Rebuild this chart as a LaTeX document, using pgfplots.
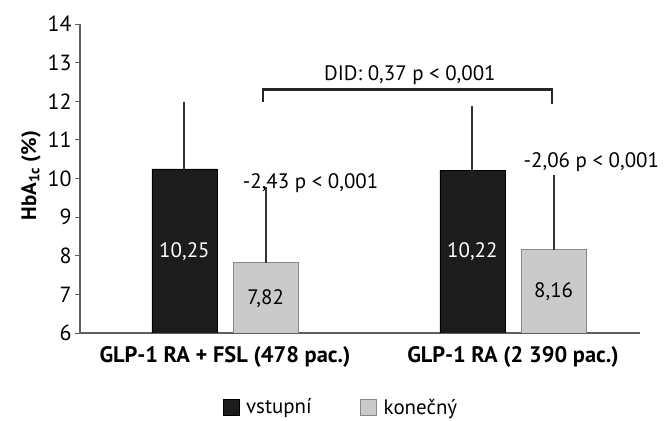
\documentclass[border=0pt]{standalone}
\usepackage{fontspec}
\setmainfont{PT Sans}
\usepackage{pgfplots}
\pgfplotsset{compat=1.18}
\definecolor{barblack}{RGB}{28,28,28}
\definecolor{bargrey}{RGB}{202,202,202}
\definecolor{bargreyedge}{RGB}{135,135,135}
\definecolor{axisgrey}{RGB}{95,95,95}
\newcommand{\fs}{\fontsize{21}{25}\selectfont}
\begin{document}
\begin{tikzpicture}
\useasboundingbox (0,0) rectangle (665bp,421bp);
\begin{axis}[
  at={(80bp,88bp)}, anchor=south west,
  scale only axis, width=560bp, height=309bp,
  xmin=0.4965, xmax=2.441, ymin=6, ymax=14,
  clip mode=individual,
  axis x line*=bottom, axis y line*=left,
  axis line style={draw=axisgrey, line width=1.2bp},
  ytick={6,...,14}, xtick={1,2},
  xticklabels={{GLP-1 RA + FSL (478 pac.)},{GLP-1 RA (2 390 pac.)}},
  x tick label style={font=\fontsize{22.5}{26}\selectfont\bfseries, yshift=-5bp},
  y tick label style={font=\fontsize{22}{26}\selectfont},
  major x tick style={draw=none},
  major y tick style={draw=axisgrey, line width=0.8bp},
  tick align=outside, major tick length=5bp,
  /pgf/number format/assume math mode=true,
  /pgf/number format/use comma,
  ylabel={\textbf{HbA\textsubscript{1c} (\%)}},
  ylabel style={font=\fontsize{21}{25}\selectfont, xshift=3bp},
  legend columns=2,
  legend style={at={(0.466,-0.240)}, anchor=center, draw=none, fill=none,
    inner sep=0pt, outer sep=0pt,
    font=\fs, nodes={inner ysep=0bp},
    /tikz/every even column/.append style={column sep=46bp},
    /tikz/every odd column/.append style={column sep=5bp}},
]
\addplot[ybar, bar width=0.2257, bar shift=0, fill=barblack, draw=black,
  legend image code/.code={\draw[fill=barblack, draw=black] (0bp,-8bp) rectangle (16bp,8bp);},
  error bars/.cd, y dir=plus, y explicit, error mark=none,
  error bar style={line width=1.8bp, black!80}]
  coordinates {(0.859,10.25) +- (0,1.72) (1.859,10.22) +- (0,1.65)};
\addlegendentry{vstupní}
\addplot[ybar, bar width=0.2257, bar shift=0, fill=bargrey, draw=bargreyedge, line width=1bp,
  legend image code/.code={\draw[fill=bargrey, draw=bargreyedge, line width=1bp] (0bp,-8bp) rectangle (16bp,8bp);},
  error bars/.cd, y dir=plus, y explicit, error mark=none,
  error bar style={line width=1.8bp, black!80}]
  coordinates {(1.141,7.82) +- (0,1.95) (2.141,8.16) +- (0,1.94)};
\addlegendentry{konečný}
\addplot[sharp plot, line width=2.6bp, black!85, forget plot]
  coordinates {(1.132,11.97) (1.132,12.31) (2.135,12.31) (2.135,11.93)};
\node[anchor=base, font=\fs, text=white] at (axis cs:0.859,7.95) {10,25};
\node[anchor=base, font=\fs] at (axis cs:1.141,6.73) {7,82};
\node[anchor=base, font=\fs, text=white] at (axis cs:1.859,7.95) {10,22};
\node[anchor=base, font=\fs] at (axis cs:2.141,6.91) {8,16};
\node[anchor=base, font=\fs] at (axis cs:1.297,9.74) {-2,43 p < 0,001};
\node[anchor=base, font=\fs] at (axis cs:2.272,10.29) {-2,06 p < 0,001};
\node[anchor=base, font=\fs] at (axis cs:1.642,12.55) {DID: 0,37 p < 0,001};
\end{axis}
\end{tikzpicture}
\end{document}
